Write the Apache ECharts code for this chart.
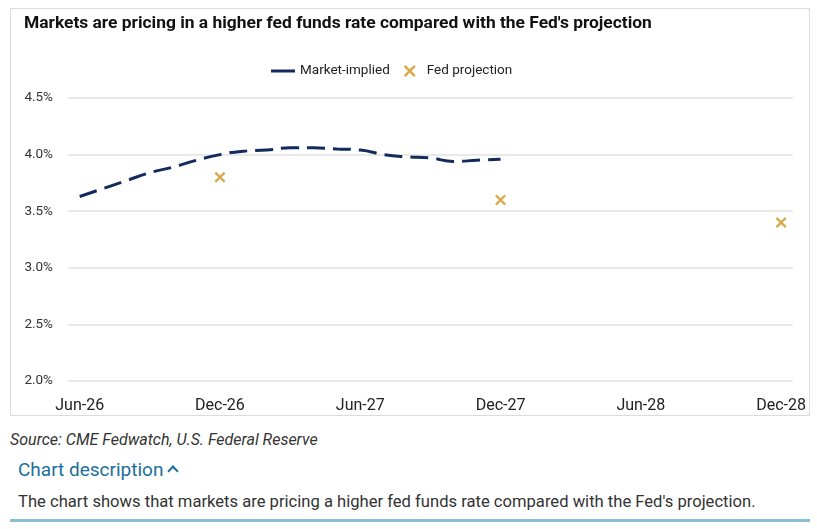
<!DOCTYPE html>
<html>
<head>
<meta charset="utf-8">
<script src="https://cdn.jsdelivr.net/npm/echarts@6/dist/echarts.min.js"></script>
<style>
  body { margin: 0; background: #fff; font-family: Roboto, "Noto Sans", sans-serif; }
  #box { position: absolute; left: 10px; top: 8px; width: 800px; height: 408px;
         border: 1px solid #dcdcdc; box-sizing: border-box; }
  #chart { width: 798px; height: 406px; }
  #source { position: absolute; left: 10px; top: 430px; font-size: 16px; font-style: italic; color: #333; }
  #desc-head { position: absolute; left: 18px; top: 458px; font-size: 19px; color: #1b6f9a; }
  #desc-head .chev { display: inline-block; width: 6px; height: 6px; margin-left: 6px;
         border-left: 2.5px solid #1b6f9a; border-top: 2.5px solid #1b6f9a;
         transform: rotate(45deg); position: relative; top: -1px; }
  #desc { position: absolute; left: 18px; top: 492px; font-size: 16.6px; color: #333; }
  #rule { position: absolute; left: 10px; top: 519px; width: 800px; height: 3px; background: #8bbcd8; }
</style>
</head>
<body>
<div id="box"><div id="chart"></div></div>
<div id="source">Source: CME Fedwatch, U.S. Federal Reserve</div>
<div id="desc-head">Chart description<span class="chev"></span></div>
<div id="desc">The chart shows that markets are pricing a higher fed funds rate compared with the Fed's projection.</div>
<div id="rule"></div>
<script>
// monthly categories, Jun-26 .. Dec-28
const months = [
    'Jun-26', 'Jul-26', 'Aug-26', 'Sep-26', 'Oct-26', 'Nov-26', 'Dec-26',
    'Jan-27', 'Feb-27', 'Mar-27', 'Apr-27', 'May-27', 'Jun-27',
    'Jul-27', 'Aug-27', 'Sep-27', 'Oct-27', 'Nov-27', 'Dec-27',
    'Jan-28', 'Feb-28', 'Mar-28', 'Apr-28', 'May-28', 'Jun-28',
    'Jul-28', 'Aug-28', 'Sep-28', 'Oct-28', 'Nov-28', 'Dec-28'
];

// market-implied path, Jun-26 .. Dec-27
const marketImplied = [
    3.63, 3.70, 3.77, 3.84, 3.89, 3.95, 4.00,
    4.03, 4.04, 4.06, 4.06, 4.05, 4.04,
    4.00, 3.98, 3.97, 3.94, 3.95, 3.96
];

// Fed projection (year-end dots only)
const fedProjection = [
    '-', '-', '-', '-', '-', '-', 3.8,
    '-', '-', '-', '-', '-', '-',
    '-', '-', '-', '-', '-', 3.6,
    '-', '-', '-', '-', '-', '-',
    '-', '-', '-', '-', '-', 3.4
];

const yTicks = { min: 2.0, max: 4.5, step: 0.5 };

const crossPath = 'path://M1.5,0L5,3.5L8.5,0L10,1.5L6.5,5L10,8.5L8.5,10L5,6.5L1.5,10L0,8.5L3.5,5L0,1.5Z';
const dashIcon = 'path://M0,0h24v3h-24z';

var chart = echarts.init(document.getElementById('chart'));

var option = {
    animation: false,
    title: {
        text: "Markets are pricing in a higher fed funds rate compared with the Fed's projection",
        left: 8,
        top: 1,
        textStyle: { fontFamily: 'Roboto', fontSize: 17.4, fontWeight: 'bold', color: '#111' }
    },
    legend: {
        left: 255,
        top: 50,
        itemWidth: 24,
        itemHeight: 12,
        itemGap: 14,
        symbolKeepAspect: true,
        textStyle: { fontFamily: 'Roboto', fontSize: 13.5, color: '#222' },
        data: [
            { name: 'Market-implied', icon: dashIcon, itemStyle: { color: '#132a5e' } },
            { name: 'Fed projection', icon: crossPath, itemStyle: { color: '#cf9320' } }
        ]
    },
    grid: { left: 57, right: 16, top: 89, bottom: 34 },
    xAxis: {
        type: 'category',
        data: months,
        boundaryGap: true,
        axisLine: { show: false },
        axisTick: { show: false },
        axisLabel: {
            interval: 5,
            margin: 17,
            fontFamily: 'Roboto',
            fontSize: 16,
            color: '#222'
        }
    },
    yAxis: {
        type: 'value',
        min: yTicks.min,
        max: yTicks.max,
        interval: yTicks.step,
        axisLine: { show: false },
        axisTick: { show: false },
        splitLine: { lineStyle: { color: '#e2e2e2', width: 1.5 } },
        axisLabel: {
            margin: 15,
            fontFamily: 'Roboto',
            fontSize: 13.5,
            color: '#333',
            formatter: function (v) { return v.toFixed(1) + '%'; }
        }
    },
    series: [
        {
            name: 'Market-implied',
            type: 'line',
            data: marketImplied,
            smooth: true,
            showSymbol: false,
            symbol: 'none',
            lineStyle: { color: '#132a5e', width: 3, type: [18, 8] },
            itemStyle: { color: '#132a5e' }
        },
        {
            name: 'Fed projection',
            type: 'scatter',
            data: fedProjection,
            symbol: crossPath,
            symbolSize: 11,
            itemStyle: { color: '#cf9320' }
        }
    ]
};

chart.setOption(option);
</script>
</body>
</html>
